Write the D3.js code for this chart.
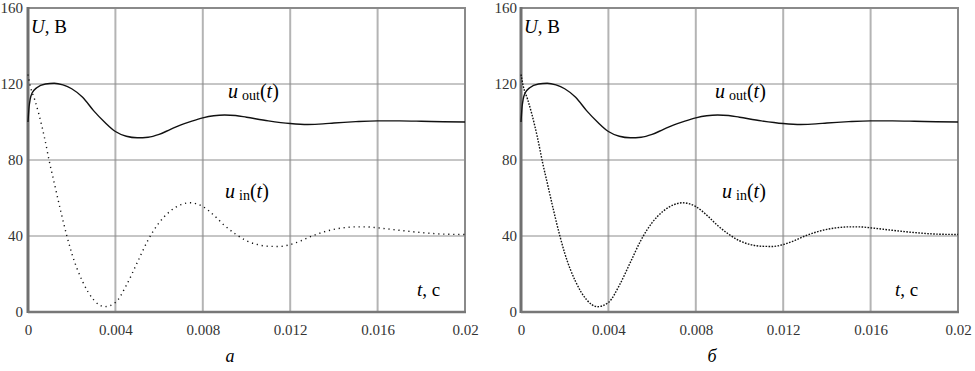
<!DOCTYPE html>
<html><head><meta charset="utf-8">
<script src="https://cdn.jsdelivr.net/npm/d3@7"></script>
</head><body style="margin:0">
<svg id="c" width="975" height="371" font-family="Liberation Serif"></svg>
<script>
// ---- data ----
const xTicks = [0, 0.004, 0.008, 0.012, 0.016, 0.02];
const xTickLabels = ["0", "0.004", "0.008", "0.012", "0.016", "0.02"];
const yTicks = [0, 40, 80, 120, 160];
const yTickLabels = ["0", "40", "80", "120", "160"];

const tOut = [0, 0.00005, 0.0001, 0.0002, 0.0004, 0.0008, 0.0012, 0.0016, 0.002, 0.0025, 0.003, 0.0035, 0.004, 0.0045, 0.005, 0.0055, 0.006, 0.0065, 0.007, 0.0075, 0.008, 0.0085, 0.009, 0.0095, 0.010, 0.011, 0.012, 0.0128, 0.0135, 0.014, 0.015, 0.016, 0.017, 0.018, 0.019, 0.02];
const uOut = [100, 108, 112, 115.5, 118, 120, 120.4, 119.5, 117.5, 113, 106, 100, 95, 92.5, 91.7, 92, 93.5, 96, 98.5, 100.5, 102.2, 103.3, 103.7, 103.4, 102.5, 100.6, 99.2, 98.7, 99, 99.5, 100.2, 100.6, 100.6, 100.4, 100.1, 100];

const tIn = [0, 0.0001, 0.0003, 0.0005, 0.00075, 0.001, 0.0012, 0.0015, 0.00178, 0.002, 0.0025, 0.003, 0.0035, 0.004, 0.0045, 0.005, 0.0055, 0.006, 0.0065, 0.007, 0.0074, 0.008, 0.0085, 0.009, 0.0095, 0.010, 0.0105, 0.011, 0.0115, 0.012, 0.0125, 0.013, 0.0135, 0.014, 0.0145, 0.015, 0.0155, 0.016, 0.017, 0.018, 0.019, 0.02];
const uIn = [125, 119, 112, 104, 92, 78, 68, 53, 40, 31, 16, 6.5, 2.8, 5, 14, 26, 38, 47, 53, 56.5, 57.5, 55.5, 51, 45.5, 41, 37.5, 35.5, 34.6, 34.5, 35.5, 37.5, 40, 42, 43.5, 44.4, 44.8, 44.8, 44.3, 43, 41.8, 41, 40.8];

const panels = [
  {x0: 28, x1: 465, letter: "а", letterX: 230, dash: "1.2,3.8", outLbl: 228, inLbl: 225, tLbl: 417},
  {x0: 521, x1: 958, letter: "б", letterX: 712, dash: "1.6,1.4", outLbl: 715, inLbl: 722, tLbl: 895}
];

const svg = d3.select("#c");
const yTop = 8, yBot = 312;
const FONT = "Liberation Serif";

panels.forEach(p => {
  const x = d3.scaleLinear().domain([0, 0.02]).range([p.x0, p.x1]);
  const y = d3.scaleLinear().domain([0, 160]).range([yBot, yTop]);
  const g = svg.append("g");

  g.selectAll("line.vg").data(xTicks.slice(1, -1)).join("line")
    .attr("x1", d => x(d)).attr("x2", d => x(d)).attr("y1", yTop).attr("y2", yBot)
    .attr("stroke", "#b4b4b4").attr("stroke-width", 2);
  g.selectAll("line.hg").data(yTicks.slice(1, -1)).join("line")
    .attr("x1", p.x0).attr("x2", p.x1).attr("y1", d => y(d)).attr("y2", d => y(d))
    .attr("stroke", "#8c8c8c").attr("stroke-width", 1);

  g.append("rect").attr("x", p.x0).attr("y", yTop).attr("width", p.x1 - p.x0).attr("height", yBot - yTop)
    .attr("fill", "none").attr("stroke", "#8a8a8a").attr("stroke-width", 2);
  g.append("line").attr("x1", p.x0).attr("x2", p.x0).attr("y1", yTop - 1).attr("y2", yBot + 1)
    .attr("stroke", "#707070").attr("stroke-width", 3);
  g.append("line").attr("x1", p.x0).attr("x2", p.x1 + 1).attr("y1", yBot).attr("y2", yBot)
    .attr("stroke", "#777").attr("stroke-width", 2.5);

  // text labels first
  const tU = g.append("text").attr("x", p.x0 + 3).attr("y", 33).attr("font-size", 19).attr("font-family", FONT);
  tU.append("tspan").attr("font-style", "italic").text("U");
  tU.append("tspan").text(", В");

  function uLabel(xx, yy, sub) {
    const t = g.append("text").attr("x", xx).attr("y", yy).attr("font-size", 20).attr("font-family", FONT);
    t.append("tspan").attr("font-style", "italic").text("u");
    t.append("tspan").attr("font-size", 14).attr("dx", 4).attr("dy", 2).text(sub);
    t.append("tspan").attr("dy", -2).text("(");
    t.append("tspan").attr("font-style", "italic").text("t");
    t.append("tspan").text(")");
  }
  uLabel(p.outLbl, 98, "out");
  uLabel(p.inLbl, 198, "in");

  const tt = g.append("text").attr("x", p.tLbl).attr("y", 296).attr("font-size", 19).attr("font-family", FONT);
  tt.append("tspan").attr("font-style", "italic").text("t");
  tt.append("tspan").text(", с");

  g.append("text").attr("x", p.letterX).attr("y", 362).attr("font-family", FONT)
    .attr("font-size", 18).attr("font-style", "italic").attr("text-anchor", "middle").text(p.letter);

  // axes: tick labels only, with d3's default font attributes removed
  const xa = d3.axisBottom(x).tickValues(xTicks).tickFormat((d, i) => xTickLabels[i]).tickSize(0).tickPadding(12);
  const gx = g.append("g").attr("transform", `translate(0,${yBot})`).call(xa);
  gx.attr("font-family", null).attr("font-size", null);
  gx.select(".domain").remove();
  gx.selectAll("text").attr("font-family", FONT).attr("font-size", 15).attr("fill", "#333");

  const ya = d3.axisLeft(y).tickValues(yTicks).tickFormat((d, i) => yTickLabels[i]).tickSize(0).tickPadding(p.x0 < 100 ? 5 : 4);
  const gy = g.append("g").attr("transform", `translate(${p.x0},0)`).call(ya);
  gy.attr("font-family", null).attr("font-size", null);
  gy.select(".domain").remove();
  gy.selectAll("text").attr("font-family", FONT).attr("font-size", 15).attr("fill", "#333");

  // curves
  const lineOut = d3.line().x((d, i) => x(tOut[i])).y(d => y(d)).curve(d3.curveMonotoneX);
  const lineIn = d3.line().x((d, i) => x(tIn[i])).y(d => y(d)).curve(d3.curveMonotoneX);
  g.append("path").attr("d", lineIn(uIn)).attr("fill", "none").attr("stroke", "#111")
    .attr("stroke-width", 1.4).attr("stroke-dasharray", p.dash);
  g.append("path").attr("d", lineOut(uOut)).attr("fill", "none").attr("stroke", "#111").attr("stroke-width", 1.4);
});
</script>
</body></html>
